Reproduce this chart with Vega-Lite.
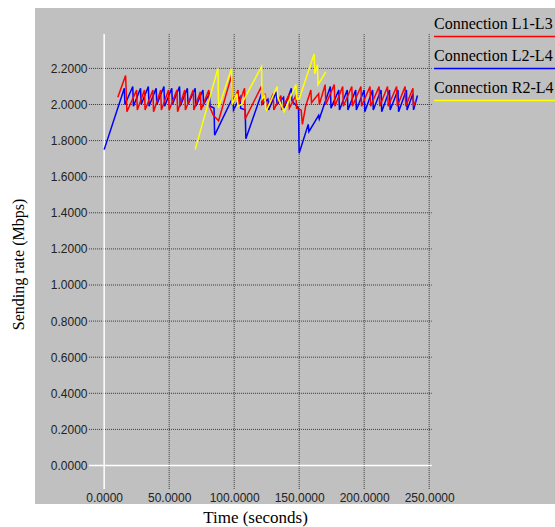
{
  "$schema": "https://vega.github.io/schema/vega-lite/v6.json",
  "width": 520,
  "height": 496,
  "autosize": {"type": "none"},
  "padding": {"left": 35, "top": 8, "right": 0, "bottom": 23},
  "background": "white",
  "config": {"view": {"fill": "#c0c0c0", "stroke": null}, "font": "Liberation Sans"},
  "datasets": {
    "hgrid": [
      {"v": 0.2, "a": -11.7, "b": 252}, {"v": 0.4, "a": -11.7, "b": 252}, {"v": 0.6, "a": -11.7, "b": 252},
      {"v": 0.8, "a": -11.7, "b": 252}, {"v": 1.0, "a": -11.7, "b": 252}, {"v": 1.2, "a": -11.7, "b": 252},
      {"v": 1.4, "a": -11.7, "b": 252}, {"v": 1.6, "a": -11.7, "b": 252}, {"v": 1.8, "a": -11.7, "b": 252},
      {"v": 2.0, "a": -11.7, "b": 252}, {"v": 2.2, "a": -11.7, "b": 252}
    ],
    "vgrid": [
      {"t": 50, "lo": -0.13, "hi": 2.39}, {"t": 100, "lo": -0.13, "hi": 2.39}, {"t": 150, "lo": -0.13, "hi": 2.39},
      {"t": 200, "lo": -0.13, "hi": 2.39}, {"t": 250, "lo": -0.13, "hi": 2.39}
    ],
    "axislines": [
      {"x1": 0, "x2": 0, "y1": -0.13, "y2": 2.39},
      {"x1": -11.7, "x2": 252, "y1": 0, "y2": 0}
    ],
    "series": [
      {"t": 0, "v": 1.75, "c": "Connection L2-L4"},
      {"t": 15.5, "v": 2.09, "c": "Connection L2-L4"},
      {"t": 16, "v": 2.0, "c": "Connection L2-L4"},
      {"t": 22, "v": 2.1, "c": "Connection L2-L4"},
      {"t": 22.5, "v": 1.99, "c": "Connection L2-L4"},
      {"t": 28, "v": 2.09, "c": "Connection L2-L4"},
      {"t": 28.5, "v": 2.0, "c": "Connection L2-L4"},
      {"t": 34, "v": 2.1, "c": "Connection L2-L4"},
      {"t": 34.5, "v": 1.99, "c": "Connection L2-L4"},
      {"t": 40, "v": 2.09, "c": "Connection L2-L4"},
      {"t": 40.5, "v": 2.0, "c": "Connection L2-L4"},
      {"t": 46, "v": 2.1, "c": "Connection L2-L4"},
      {"t": 46.5, "v": 1.99, "c": "Connection L2-L4"},
      {"t": 52, "v": 2.09, "c": "Connection L2-L4"},
      {"t": 52.5, "v": 2.0, "c": "Connection L2-L4"},
      {"t": 58, "v": 2.1, "c": "Connection L2-L4"},
      {"t": 58.5, "v": 1.99, "c": "Connection L2-L4"},
      {"t": 64, "v": 2.09, "c": "Connection L2-L4"},
      {"t": 64.5, "v": 2.0, "c": "Connection L2-L4"},
      {"t": 70, "v": 2.09, "c": "Connection L2-L4"},
      {"t": 70.5, "v": 1.99, "c": "Connection L2-L4"},
      {"t": 76, "v": 2.08, "c": "Connection L2-L4"},
      {"t": 76.5, "v": 2.0, "c": "Connection L2-L4"},
      {"t": 81, "v": 2.06, "c": "Connection L2-L4"},
      {"t": 81.5, "v": 1.99, "c": "Connection L2-L4"},
      {"t": 84.5, "v": 1.98, "c": "Connection L2-L4"},
      {"t": 85, "v": 1.83, "c": "Connection L2-L4"},
      {"t": 99, "v": 2.04, "c": "Connection L2-L4"},
      {"t": 99.5, "v": 1.97, "c": "Connection L2-L4"},
      {"t": 104.5, "v": 2.04, "c": "Connection L2-L4"},
      {"t": 105, "v": 1.98, "c": "Connection L2-L4"},
      {"t": 108.5, "v": 1.97, "c": "Connection L2-L4"},
      {"t": 109, "v": 1.81, "c": "Connection L2-L4"},
      {"t": 121, "v": 2.06, "c": "Connection L2-L4"},
      {"t": 121.5, "v": 2.0, "c": "Connection L2-L4"},
      {"t": 126, "v": 2.03, "c": "Connection L2-L4"},
      {"t": 126.5, "v": 1.97, "c": "Connection L2-L4"},
      {"t": 132.5, "v": 2.07, "c": "Connection L2-L4"},
      {"t": 133, "v": 2.0, "c": "Connection L2-L4"},
      {"t": 138, "v": 2.04, "c": "Connection L2-L4"},
      {"t": 138.5, "v": 1.98, "c": "Connection L2-L4"},
      {"t": 144, "v": 2.09, "c": "Connection L2-L4"},
      {"t": 144.5, "v": 2.02, "c": "Connection L2-L4"},
      {"t": 149.5, "v": 1.98, "c": "Connection L2-L4"},
      {"t": 150, "v": 1.73, "c": "Connection L2-L4"},
      {"t": 157, "v": 1.89, "c": "Connection L2-L4"},
      {"t": 157.5, "v": 1.85, "c": "Connection L2-L4"},
      {"t": 165, "v": 1.94, "c": "Connection L2-L4"},
      {"t": 165.5, "v": 1.92, "c": "Connection L2-L4"},
      {"t": 174, "v": 2.1, "c": "Connection L2-L4"},
      {"t": 174.5, "v": 1.98, "c": "Connection L2-L4"},
      {"t": 180.5, "v": 2.08, "c": "Connection L2-L4"},
      {"t": 181, "v": 1.97, "c": "Connection L2-L4"},
      {"t": 187, "v": 2.08, "c": "Connection L2-L4"},
      {"t": 187.5, "v": 1.97, "c": "Connection L2-L4"},
      {"t": 193.5, "v": 2.08, "c": "Connection L2-L4"},
      {"t": 194, "v": 1.97, "c": "Connection L2-L4"},
      {"t": 200, "v": 2.08, "c": "Connection L2-L4"},
      {"t": 200.5, "v": 1.96, "c": "Connection L2-L4"},
      {"t": 206.5, "v": 2.08, "c": "Connection L2-L4"},
      {"t": 207, "v": 1.97, "c": "Connection L2-L4"},
      {"t": 213, "v": 2.08, "c": "Connection L2-L4"},
      {"t": 213.5, "v": 1.96, "c": "Connection L2-L4"},
      {"t": 219.5, "v": 2.08, "c": "Connection L2-L4"},
      {"t": 220, "v": 1.97, "c": "Connection L2-L4"},
      {"t": 226, "v": 2.08, "c": "Connection L2-L4"},
      {"t": 226.5, "v": 1.96, "c": "Connection L2-L4"},
      {"t": 232.5, "v": 2.08, "c": "Connection L2-L4"},
      {"t": 233, "v": 1.97, "c": "Connection L2-L4"},
      {"t": 237.5, "v": 2.06, "c": "Connection L2-L4"},
      {"t": 238, "v": 1.97, "c": "Connection L2-L4"},
      {"t": 241, "v": 2.05, "c": "Connection L2-L4"},

      {"t": 10.5, "v": 2.04, "c": "Connection L1-L3"},
      {"t": 16.5, "v": 2.16, "c": "Connection L1-L3"},
      {"t": 17.5, "v": 1.96, "c": "Connection L1-L3"},
      {"t": 25, "v": 2.08, "c": "Connection L1-L3"},
      {"t": 25.5, "v": 1.97, "c": "Connection L1-L3"},
      {"t": 31, "v": 2.08, "c": "Connection L1-L3"},
      {"t": 31.5, "v": 1.97, "c": "Connection L1-L3"},
      {"t": 37.5, "v": 2.08, "c": "Connection L1-L3"},
      {"t": 38, "v": 1.96, "c": "Connection L1-L3"},
      {"t": 43.5, "v": 2.08, "c": "Connection L1-L3"},
      {"t": 44, "v": 1.97, "c": "Connection L1-L3"},
      {"t": 49.5, "v": 2.08, "c": "Connection L1-L3"},
      {"t": 50, "v": 1.97, "c": "Connection L1-L3"},
      {"t": 56, "v": 2.08, "c": "Connection L1-L3"},
      {"t": 56.5, "v": 1.96, "c": "Connection L1-L3"},
      {"t": 62, "v": 2.08, "c": "Connection L1-L3"},
      {"t": 62.5, "v": 1.97, "c": "Connection L1-L3"},
      {"t": 68.5, "v": 2.08, "c": "Connection L1-L3"},
      {"t": 69, "v": 1.97, "c": "Connection L1-L3"},
      {"t": 74, "v": 2.07, "c": "Connection L1-L3"},
      {"t": 74.5, "v": 1.97, "c": "Connection L1-L3"},
      {"t": 80.5, "v": 2.08, "c": "Connection L1-L3"},
      {"t": 81, "v": 1.99, "c": "Connection L1-L3"},
      {"t": 84, "v": 1.94, "c": "Connection L1-L3"},
      {"t": 88, "v": 1.91, "c": "Connection L1-L3"},
      {"t": 98, "v": 2.16, "c": "Connection L1-L3"},
      {"t": 98.5, "v": 2.0, "c": "Connection L1-L3"},
      {"t": 103, "v": 2.08, "c": "Connection L1-L3"},
      {"t": 103.5, "v": 2.0, "c": "Connection L1-L3"},
      {"t": 108, "v": 2.09, "c": "Connection L1-L3"},
      {"t": 108.5, "v": 1.92, "c": "Connection L1-L3"},
      {"t": 121, "v": 2.1, "c": "Connection L1-L3"},
      {"t": 121.5, "v": 2.0, "c": "Connection L1-L3"},
      {"t": 124, "v": 2.06, "c": "Connection L1-L3"},
      {"t": 124.5, "v": 1.96, "c": "Connection L1-L3"},
      {"t": 130, "v": 2.06, "c": "Connection L1-L3"},
      {"t": 130.5, "v": 1.97, "c": "Connection L1-L3"},
      {"t": 136, "v": 2.05, "c": "Connection L1-L3"},
      {"t": 136.5, "v": 1.97, "c": "Connection L1-L3"},
      {"t": 142, "v": 2.05, "c": "Connection L1-L3"},
      {"t": 142.5, "v": 1.98, "c": "Connection L1-L3"},
      {"t": 147.5, "v": 2.05, "c": "Connection L1-L3"},
      {"t": 148, "v": 1.98, "c": "Connection L1-L3"},
      {"t": 151.5, "v": 1.97, "c": "Connection L1-L3"},
      {"t": 152.5, "v": 1.89, "c": "Connection L1-L3"},
      {"t": 155, "v": 1.99, "c": "Connection L1-L3"},
      {"t": 159, "v": 2.08, "c": "Connection L1-L3"},
      {"t": 159.5, "v": 2.01, "c": "Connection L1-L3"},
      {"t": 165, "v": 2.06, "c": "Connection L1-L3"},
      {"t": 165.5, "v": 2.0, "c": "Connection L1-L3"},
      {"t": 170, "v": 2.11, "c": "Connection L1-L3"},
      {"t": 170.5, "v": 2.0, "c": "Connection L1-L3"},
      {"t": 177, "v": 2.11, "c": "Connection L1-L3"},
      {"t": 177.5, "v": 1.99, "c": "Connection L1-L3"},
      {"t": 183.5, "v": 2.1, "c": "Connection L1-L3"},
      {"t": 184, "v": 1.99, "c": "Connection L1-L3"},
      {"t": 190.5, "v": 2.1, "c": "Connection L1-L3"},
      {"t": 191, "v": 1.99, "c": "Connection L1-L3"},
      {"t": 197.5, "v": 2.1, "c": "Connection L1-L3"},
      {"t": 198, "v": 1.99, "c": "Connection L1-L3"},
      {"t": 204.5, "v": 2.1, "c": "Connection L1-L3"},
      {"t": 205, "v": 1.99, "c": "Connection L1-L3"},
      {"t": 211.5, "v": 2.1, "c": "Connection L1-L3"},
      {"t": 212, "v": 1.99, "c": "Connection L1-L3"},
      {"t": 218, "v": 2.1, "c": "Connection L1-L3"},
      {"t": 218.5, "v": 1.99, "c": "Connection L1-L3"},
      {"t": 225, "v": 2.1, "c": "Connection L1-L3"},
      {"t": 225.5, "v": 1.99, "c": "Connection L1-L3"},
      {"t": 231.5, "v": 2.1, "c": "Connection L1-L3"},
      {"t": 232, "v": 1.99, "c": "Connection L1-L3"},
      {"t": 237.5, "v": 2.09, "c": "Connection L1-L3"},
      {"t": 238, "v": 1.99, "c": "Connection L1-L3"},
      {"t": 239.7, "v": 2.02, "c": "Connection L1-L3"},

      {"t": 70, "v": 1.75, "c": "Connection R2-L4"},
      {"t": 87.5, "v": 2.2, "c": "Connection R2-L4"},
      {"t": 88, "v": 1.98, "c": "Connection R2-L4"},
      {"t": 98, "v": 2.2, "c": "Connection R2-L4"},
      {"t": 98.5, "v": 2.0, "c": "Connection R2-L4"},
      {"t": 102, "v": 2.06, "c": "Connection R2-L4"},
      {"t": 103, "v": 1.99, "c": "Connection R2-L4"},
      {"t": 105.5, "v": 2.0, "c": "Connection R2-L4"},
      {"t": 121, "v": 2.21, "c": "Connection R2-L4"},
      {"t": 121.5, "v": 2.03, "c": "Connection R2-L4"},
      {"t": 123.5, "v": 2.05, "c": "Connection R2-L4"},
      {"t": 124.5, "v": 1.96, "c": "Connection R2-L4"},
      {"t": 133, "v": 2.1, "c": "Connection R2-L4"},
      {"t": 133.5, "v": 2.04, "c": "Connection R2-L4"},
      {"t": 138.5, "v": 1.96, "c": "Connection R2-L4"},
      {"t": 147.5, "v": 2.11, "c": "Connection R2-L4"},
      {"t": 148, "v": 2.03, "c": "Connection R2-L4"},
      {"t": 150, "v": 2.03, "c": "Connection R2-L4"},
      {"t": 161.5, "v": 2.28, "c": "Connection R2-L4"},
      {"t": 162, "v": 2.17, "c": "Connection R2-L4"},
      {"t": 164, "v": 2.22, "c": "Connection R2-L4"},
      {"t": 164.5, "v": 2.11, "c": "Connection R2-L4"},
      {"t": 170.5, "v": 2.18, "c": "Connection R2-L4"}
    ]
  },
  "layer": [
    {
      "data": {"name": "hgrid"},
      "mark": {"type": "rule", "color": "#3a3a3a", "strokeWidth": 1, "strokeDash": [1, 1]},
      "encoding": {
        "y": {"field": "v", "type": "quantitative", "scale": {"domain": [-0.2133, 2.5346], "nice": false, "zero": false}},
        "x": {"field": "a", "type": "quantitative", "scale": {"domain": [-53.2, 346.8], "nice": false, "zero": false}},
        "x2": {"field": "b"}
      }
    },
    {
      "data": {"name": "vgrid"},
      "mark": {"type": "rule", "color": "#3a3a3a", "strokeWidth": 1, "strokeDash": [1, 1]},
      "encoding": {
        "x": {"field": "t", "type": "quantitative", "scale": {"domain": [-53.2, 346.8], "nice": false, "zero": false}},
        "y": {"field": "lo", "type": "quantitative", "scale": {"domain": [-0.2133, 2.5346], "nice": false, "zero": false}},
        "y2": {"field": "hi"}
      }
    },
    {
      "data": {"name": "axislines"},
      "mark": {"type": "rule", "color": "#ffffff", "strokeWidth": 1.5},
      "encoding": {
        "x": {"field": "x1", "type": "quantitative", "scale": {"domain": [-53.2, 346.8], "nice": false, "zero": false}},
        "x2": {"field": "x2"},
        "y": {"field": "y1", "type": "quantitative", "scale": {"domain": [-0.2133, 2.5346], "nice": false, "zero": false}},
        "y2": {"field": "y2"}
      }
    },
    {
      "data": {"name": "series"},
      "mark": {"type": "line", "strokeWidth": 1.5},
      "encoding": {
        "x": {
          "field": "t", "type": "quantitative",
          "scale": {"domain": [-53.2, 346.8], "nice": false, "zero": false},
          "axis": {
            "values": [0, 50, 100, 150, 200, 250], "format": ".4f", "offset": -15,
            "ticks": false, "domain": false, "grid": false, "labelPadding": 3,
            "labelFont": "Liberation Sans", "labelFontSize": 12, "labelColor": "#222222",
            "labelFlush": false, "labelOverlap": false,
            "title": "Time (seconds)", "titleFont": "Liberation Serif", "titleFontSize": 17,
            "titleFontWeight": "normal", "titleColor": "#000000",
            "titleX": 220, "titleY": 28, "titleBaseline": "middle", "titleAlign": "center"
          }
        },
        "y": {
          "field": "v", "type": "quantitative",
          "scale": {"domain": [-0.2133, 2.5346], "nice": false, "zero": false},
          "axis": {
            "values": [0, 0.2, 0.4, 0.6, 0.8, 1.0, 1.2, 1.4, 1.6, 1.8, 2.0, 2.2], "format": ".4f", "offset": -54,
            "ticks": false, "domain": false, "grid": false, "labelPadding": 2,
            "labelFont": "Liberation Sans", "labelFontSize": 12, "labelColor": "#222222",
            "labelFlush": false, "labelOverlap": false,
            "title": "Sending rate (Mbps)", "titleFont": "Liberation Serif", "titleFontSize": 16,
            "titleFontWeight": "normal", "titleColor": "#000000",
            "titleX": -71, "titleY": 256, "titleAngle": -90, "titleBaseline": "middle", "titleAlign": "center"
          }
        },
        "color": {
          "field": "c", "type": "nominal",
          "scale": {"domain": ["Connection L1-L3", "Connection L2-L4", "Connection R2-L4"], "range": ["#ff0000", "#0000ff", "#ffff00"]},
          "legend": {
            "orient": "none", "legendX": 397, "legendY": 8, "title": null,
            "symbolType": "M-1,2.1H20", "symbolSize": 144, "symbolStrokeWidth": 1.5,
            "labelOffset": -14, "labelFont": "Liberation Serif", "labelFontSize": 16,
            "labelColor": "#000000", "labelLimit": 400, "rowPadding": 8, "padding": 0
          }
        }
      }
    }
  ]
}
